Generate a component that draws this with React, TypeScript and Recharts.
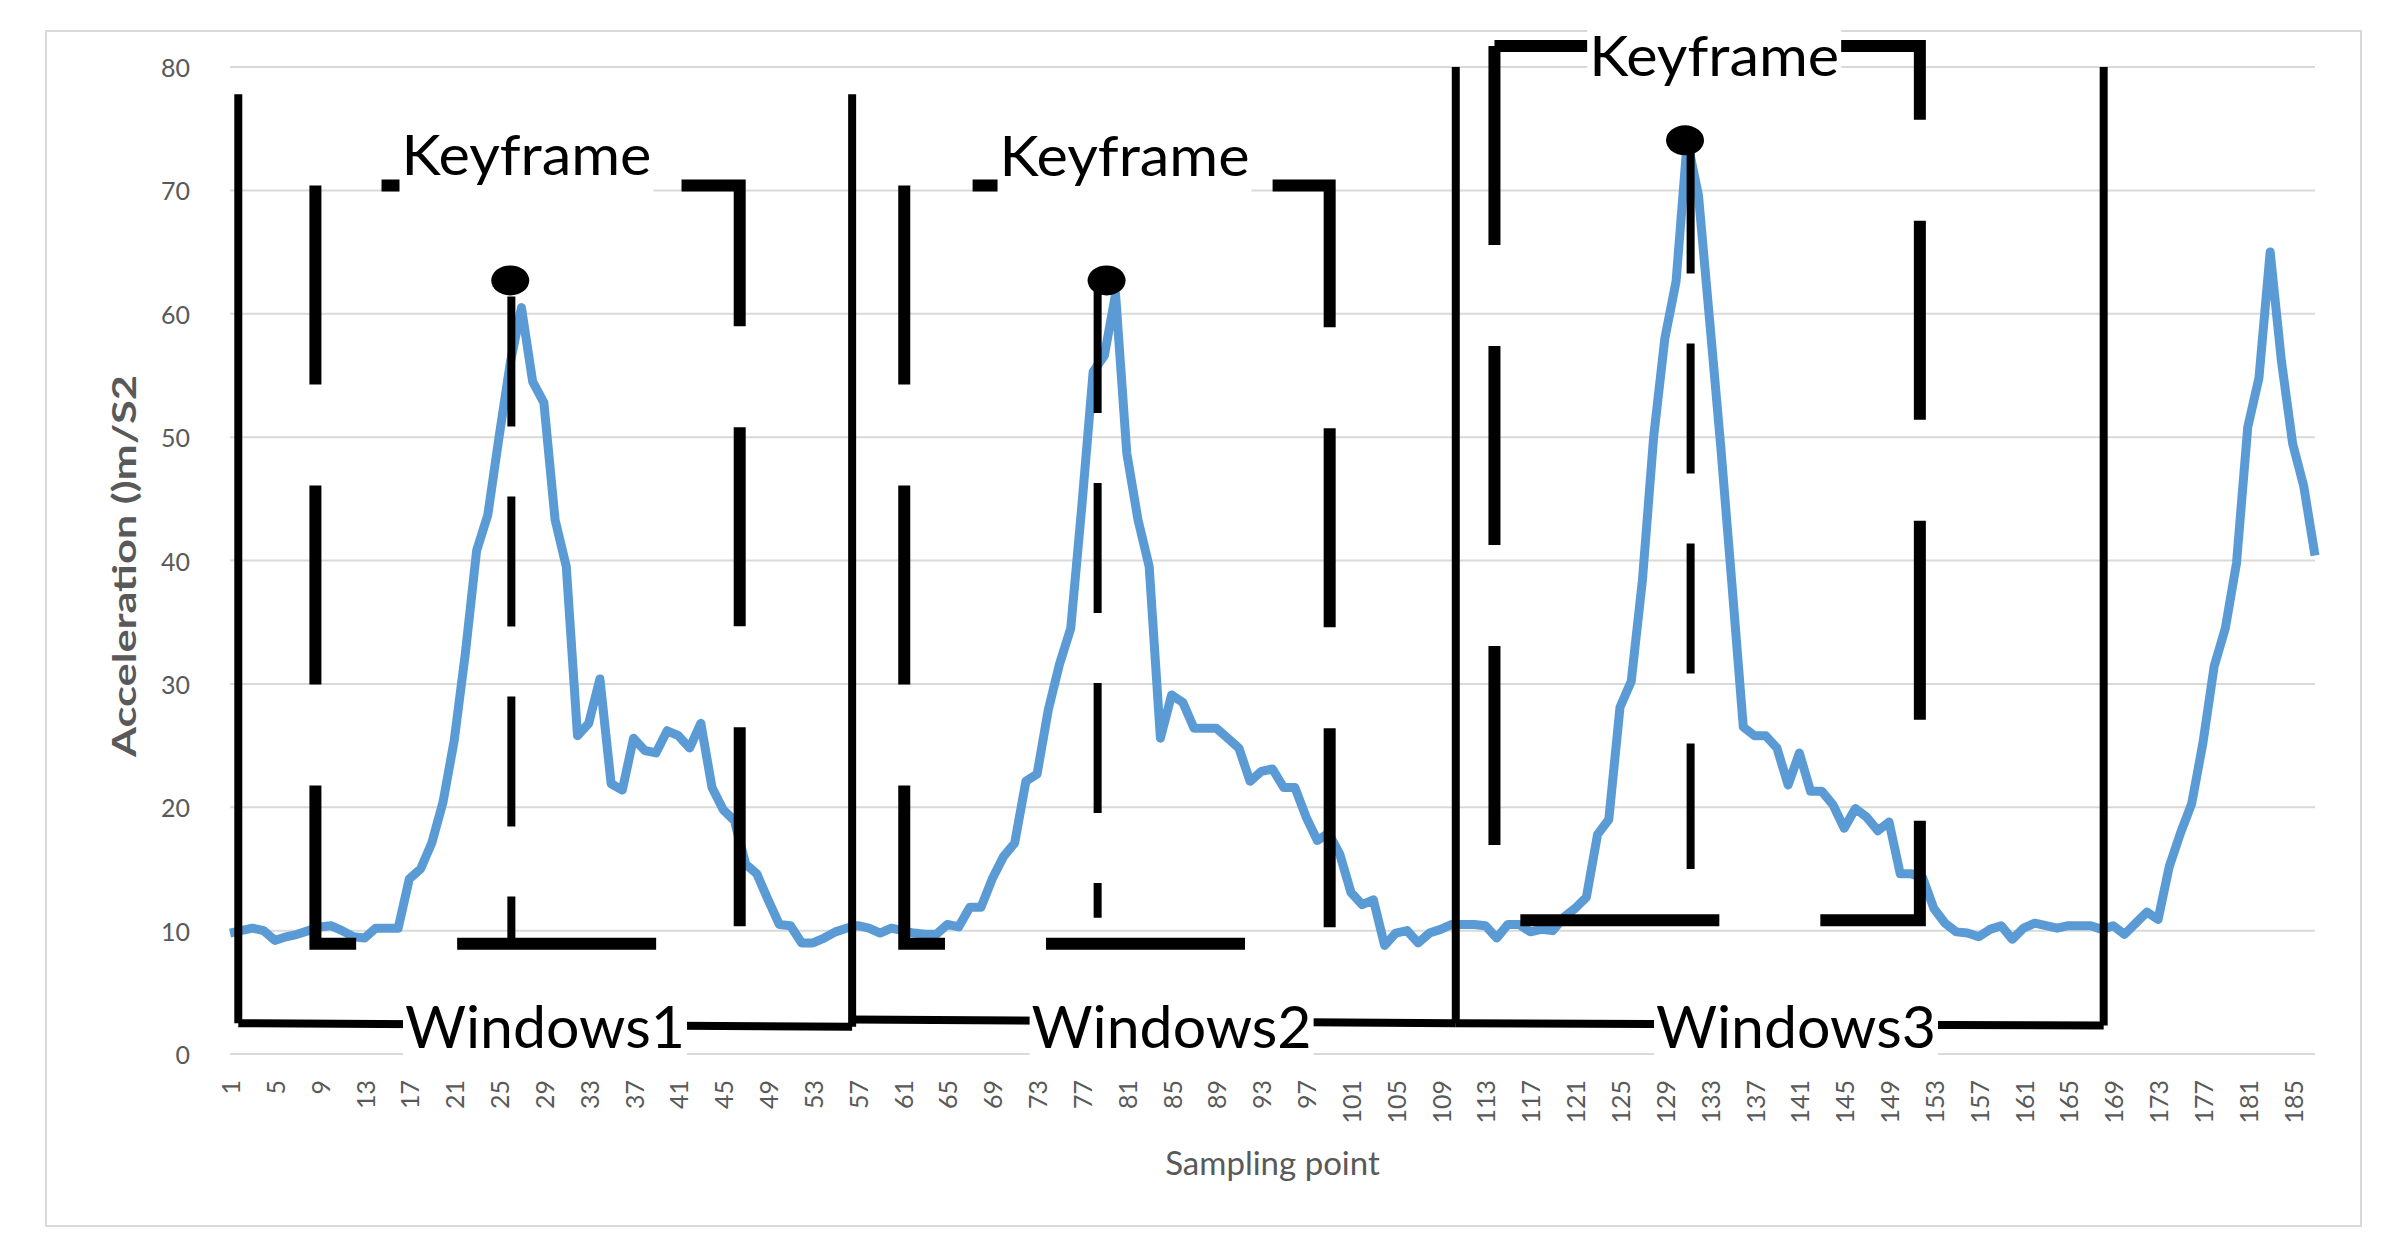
import {
  LineChart,
  Line,
  XAxis,
  YAxis,
  CartesianGrid,
  ReferenceLine,
  ReferenceArea,
  ReferenceDot,
  Label,
} from 'recharts';

// acceleration per sampling point, split by window
const window1Values = [
  9.8, 10.0, 10.2, 10.0, 9.2, 9.5, 9.7, 10.0, 10.3, 10.4,
  10.0, 9.5, 9.4, 10.2, 10.2, 10.2, 14.2, 15.0, 17.1, 20.4,
  25.4, 32.5, 40.8, 43.7, 50.0, 56.0, 60.5, 54.5, 52.8, 43.3,
  39.5, 25.8, 26.8, 30.4, 21.9, 21.4, 25.6, 24.6, 24.4, 26.2,
  25.8, 24.8, 26.8, 21.6, 19.8, 18.9, 15.4, 14.6, 12.5, 10.5,
  10.4, 9.0, 9.0, 9.4, 9.9, 10.2,
];
const window2Values = [
  10.4, 10.2, 9.8, 10.2, 10.0, 9.8, 9.7, 9.7, 10.5, 10.3,
  11.9, 11.9, 14.2, 16.0, 17.1, 22.1, 22.7, 27.9, 31.6, 34.5,
  44.5, 55.3, 56.6, 61.6, 48.7, 43.3, 39.5, 25.6, 29.1, 28.5,
  26.4, 26.4, 26.4, 25.6, 24.8, 22.1, 22.9, 23.1, 21.6, 21.6,
  19.2, 17.3, 17.9, 16.2, 13.1, 12.1, 12.5, 8.8, 9.8, 10.0,
  9.0, 9.8, 10.1, 10.5,
];
const window3Values = [
  10.5, 10.5, 10.4, 9.4, 10.5, 10.5, 9.9, 10.1, 10.0, 11.1,
  11.8, 12.7, 17.8, 19.0, 28.1, 30.2, 38.4, 50.0, 58.0, 62.6,
  74.0, 69.6, 59.4, 49.1, 37.9, 26.5, 25.8, 25.8, 24.8, 21.8,
  24.4, 21.3, 21.3, 20.2, 18.3, 19.9, 19.2, 18.1, 18.8, 14.6,
  14.6, 14.3, 11.8, 10.6, 9.9, 9.8, 9.5, 10.1, 10.4, 9.3,
  10.2, 10.6, 10.4, 10.2, 10.4, 10.4, 10.4, 10.1,
];
const tailValues = [
  10.4, 9.7, 10.6, 11.5, 10.9, 15.2, 17.9, 20.3, 25.2, 31.4,
  34.5, 39.8, 50.8, 54.8, 65.0, 56.2, 49.5, 46.0, 40.4,
];

const xTicks = [
  1, 5, 9, 13, 17, 21, 25, 29, 33, 37, 41, 45, 49, 53, 57, 61, 65, 69, 73, 77,
  81, 85, 89, 93, 97, 101, 105, 109, 113, 117, 121, 125, 129, 133, 137, 141,
  145, 149, 153, 157, 161, 165, 169, 173, 177, 181, 185,
];
const yTicks = [0, 10, 20, 30, 40, 50, 60, 70, 80];

// annotation positions, in sampling point / acceleration units
const windowSegments = [
  [{ x: 1.74, y: 77.8 }, { x: 1.74, y: 2.5 }],
  [{ x: 1.74, y: 2.5 }, { x: 56.5, y: 2.2 }],
  [{ x: 56.5, y: 77.8 }, { x: 56.5, y: 2.2 }],
  [{ x: 56.5, y: 2.8 }, { x: 110.35, y: 2.5 }],
  [{ x: 110.35, y: 80 }, { x: 110.35, y: 2.5 }],
  [{ x: 110.35, y: 2.5 }, { x: 168.15, y: 2.3 }],
  [{ x: 168.15, y: 80 }, { x: 168.15, y: 2.3 }],
];
const windowLabels = [
  { x: 29.1, y: 2.16, text: 'Windows1' },
  { x: 85.0, y: 2.16, text: 'Windows2' },
  { x: 140.7, y: 2.16, text: 'Windows3' },
];
const keyframeBoxes = [
  { x1: 8.62, x2: 46.47, y1: 8.94, y2: 70.4 },
  { x1: 61.15, x2: 99.1, y1: 8.94, y2: 70.4 },
  { x1: 113.8, x2: 151.75, y1: 10.85, y2: 81.7 },
];
const keyframeLabels = [
  { x: 27.45, y: 72.9 },
  { x: 80.8, y: 72.8 },
  { x: 133.4, y: 80.9 },
];
const peakDots = [
  { x: 26.0, y: 62.7 },
  { x: 79.2, y: 62.7 },
  { x: 130.8, y: 74.06 },
];
const peakLines = [
  { x: 26.1, top: 61.4, bottom: 9.35 },
  { x: 78.4, top: 62.5, bottom: 11.05 },
  { x: 131.3, top: 73.8, bottom: 15.0 },
];

const accel = [...window1Values, ...window2Values, ...window3Values, ...tailValues];
const data = accel.map((v, i) => ({ point: i + 1, accel: v }));

const FONT = 'Lato, "DejaVu Sans", sans-serif';
const GREY = '#595959';

const XTick = ({ x, y, payload }: any) => (
  <text
    transform={`translate(${x},${y}) rotate(-90)`}
    textAnchor="end"
    dominantBaseline="central"
    fontFamily={FONT}
    fontSize={25}
    fill={GREY}
  >
    {payload.value}
  </text>
);

const YTick = ({ x, y, payload }: any) => (
  <text x={x} y={y} textAnchor="end" dominantBaseline="central" fontFamily={FONT} fontSize={25} fill={GREY}>
    {payload.value}
  </text>
);

const dashedBox = (p: any) => {
  const { x, y, width, height } = p;
  const d = `M${x},${y}L${x},${y + height}L${x + width},${y + height}L${x + width},${y}Z`;
  return (
    <path d={d} fill="none" stroke="#000" strokeWidth={12} strokeDasharray="199 101" strokeLinejoin="miter" />
  );
};

const boxedText = (text: string, w: number, fontSize: number, top: number, bottom: number) =>
  (p: any) => {
    const { cx, cy } = p;
    const cap = fontSize * 0.72;
    return (
      <g>
        <rect x={cx - w / 2 - 2} y={cy - top} width={w + 4} height={top + bottom} fill="#fff" />
        <text
          x={cx}
          y={cy + cap / 2}
          textAnchor="middle"
          fontFamily={FONT}
          fontSize={fontSize}
          fill="#000"
          textLength={w}
          lengthAdjust="spacingAndGlyphs"
        >
          {text}
        </text>
      </g>
    );
  };

const blackDot = (p: any) => <ellipse cx={p.cx} cy={p.cy} rx={19} ry={15} fill="#000" />;

export default function App() {
  return (
    <div style={{ position: 'absolute', left: 0, top: 0, width: 2382, height: 1251, background: '#fff' }}>
      <div
        style={{
          position: 'absolute',
          left: 45,
          top: 30,
          width: 2313,
          height: 1193,
          border: '2px solid #d9d9d9',
        }}
      />
      <div style={{ position: 'absolute', left: 0, top: 0 }}>
        <LineChart width={2382} height={1251} data={data} margin={{ top: 67, right: 67, bottom: 77, left: 110 }}>
          <CartesianGrid vertical={false} stroke="#d9d9d9" strokeWidth={2} />
          <XAxis
            type="number"
            dataKey="point"
            domain={[1, 187]}
            ticks={xTicks}
            interval={0}
            height={120}
            tickLine={false}
            axisLine={{ stroke: '#d9d9d9', strokeWidth: 2 }}
            tickMargin={20}
            tick={XTick}
          >
            <Label
              content={({ viewBox }: any) => (
                <text
                  x={viewBox.x + viewBox.width / 2}
                  y={viewBox.y + 121}
                  textAnchor="middle"
                  fontFamily={FONT}
                  fontSize={33}
                  fill={GREY}
                >
                  Sampling point
                </text>
              )}
            />
          </XAxis>
          <YAxis
            domain={[0, 80]}
            ticks={yTicks}
            interval={0}
            width={120}
            axisLine={false}
            tickLine={false}
            tickMargin={34}
            tick={YTick}
          >
            <Label
              content={({ viewBox }: any) => (
                <text
                  transform={`translate(${viewBox.x + 13.5},${viewBox.y + viewBox.height / 2 + 5.5}) rotate(-90)`}
                  textAnchor="middle"
                  dominantBaseline="central"
                  fontFamily={FONT}
                  fontWeight="bold"
                  fontSize={32}
                  fill={GREY}
                  textLength={382}
                  lengthAdjust="spacingAndGlyphs"
                >
                  Acceleration ()m/S2
                </text>
              )}
            />
          </YAxis>
          <Line
            type="linear"
            dataKey="accel"
            stroke="#5b9bd5"
            strokeWidth={9}
            dot={false}
            strokeLinejoin="round"
            isAnimationActive={false}
          />
          {keyframeBoxes.map((b, i) => (
            <ReferenceArea
              key={`kb${i}`}
              x1={b.x1}
              x2={b.x2}
              y1={b.y1}
              y2={b.y2}
              ifOverflow="visible"
              shape={dashedBox}
              zIndex={1500}
            />
          ))}
          {windowSegments.map((s, i) => (
            <ReferenceLine
              key={`ws${i}`}
              segment={s}
              stroke="#000"
              strokeWidth={8}
              ifOverflow="visible"
              zIndex={1500}
            />
          ))}
          {peakLines.map((l, i) => (
            <ReferenceLine
              key={`pl${i}`}
              segment={[{ x: l.x, y: l.top }, { x: l.x, y: l.bottom }]}
              stroke="#000"
              strokeWidth={8}
              strokeDasharray="130 70"
              ifOverflow="visible"
              zIndex={1500}
            />
          ))}
          {peakDots.map((d, i) => (
            <ReferenceDot key={`pd${i}`} x={d.x} y={d.y} r={19} ifOverflow="visible" shape={blackDot} zIndex={1600} />
          ))}
          {keyframeLabels.map((k, i) => (
            <ReferenceDot
              key={`kl${i}`}
              x={k.x}
              y={k.y}
              r={10}
              ifOverflow="visible"
              shape={boxedText('Keyframe', 250, 56, 28, 40)}
              zIndex={1600}
            />
          ))}
          {windowLabels.map((w, i) => (
            <ReferenceDot
              key={`wl${i}`}
              x={w.x}
              y={w.y}
              r={10}
              ifOverflow="visible"
              shape={boxedText(w.text, 280, 58, 30, 32)}
              zIndex={1600}
            />
          ))}
        </LineChart>
      </div>
    </div>
  );
}
